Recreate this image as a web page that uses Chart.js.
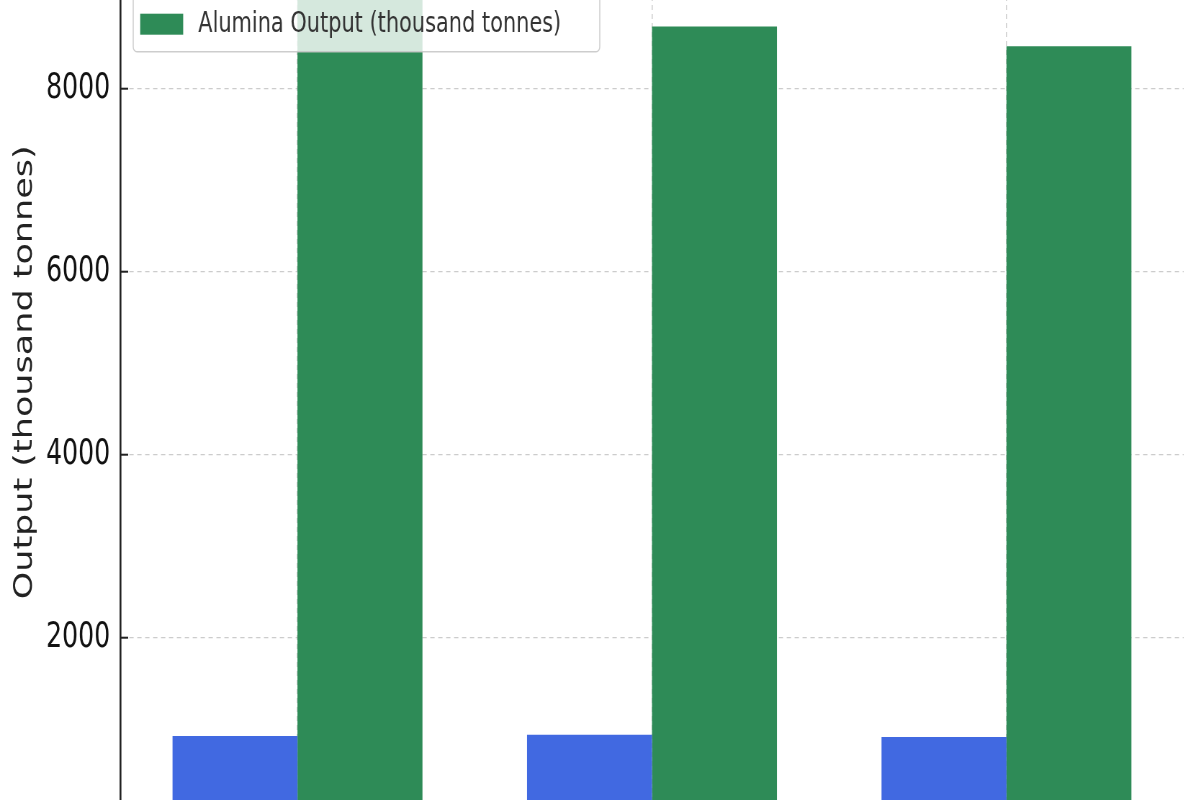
<!DOCTYPE html>
<html>
<head>
<meta charset="utf-8">
<script src="https://cdn.jsdelivr.net/npm/chart.js@4/dist/chart.umd.min.js"></script>
<style>
  body { margin: 0; background: #fff; }
  #frame { position: relative; width: 1200px; height: 800px; overflow: hidden; background: #fff; }
  /* the reference is a squeezed crop, so the canvas is drawn wide and scaled back */
  #chart { position: absolute; left: 0; top: -100px; transform-origin: 0 0; transform: scaleX(0.72); }
</style>
</head>
<body>
<div id="frame">
  <canvas id="chart" width="1667" height="1000"></canvas>
</div>
<script>
// data
var categories = ['2021', '2022', '2023'];
var seriesLabels = ['Aluminium Output (thousand tonnes)', 'Alumina Output (thousand tonnes)'];
var aluminiumOutput = [925, 940, 915];
var aluminaOutput = [9300, 8680, 8465];
var yTicks = [0, 2000, 4000, 6000, 8000];
var yMax = 9800;

var seriesColors = ['#4169E1', '#2E8B57'];

// crop of the reference: 2000 units = 183px, the zero line sits just below the frame
var PX_PER_2000 = 183;
var ZERO_Y = 821;

Chart.defaults.font.family = "'DejaVu Sans', sans-serif";
Chart.defaults.color = '#222';

// matplotlib style legend sitting inside the plot area
var insideLegend = {
    id: 'insideLegend',
    afterDraw: function(chart) {
        var ctx = chart.ctx;
        var area = chart.chartArea;
        var bx = area.left + 18, by = area.top + 19.7;
        var bw = 648, bh = 108;
        ctx.save();
        ctx.fillStyle = 'rgba(255,255,255,0.8)';
        ctx.strokeStyle = 'rgba(200,200,200,0.9)';
        ctx.lineWidth = 1.5;
        ctx.beginPath();
        ctx.roundRect(bx, by, bw, bh, 5);
        ctx.fill();
        ctx.stroke();
        ctx.font = "29px 'DejaVu Sans', sans-serif";
        ctx.textBaseline = 'middle';
        chart.data.datasets.forEach(function(ds, i) {
            var cy = by + 30.5 + i * 50;
            ctx.fillStyle = ds.backgroundColor;
            ctx.fillRect(bx + 9.7, cy - 10.5, 59.7, 21);
            ctx.fillStyle = '#333';
            ctx.fillText(ds.label, bx + 90.3, cy);
        });
        ctx.restore();
    }
};

// short inward tick marks on the y axis
var innerTicks = {
    id: 'innerTicks',
    afterDraw: function(chart) {
        var ctx = chart.ctx;
        var area = chart.chartArea;
        var y = chart.scales.y;
        ctx.save();
        ctx.strokeStyle = '#222';
        ctx.lineWidth = 2;
        yTicks.forEach(function(v) {
            var py = y.getPixelForValue(v);
            ctx.beginPath();
            ctx.moveTo(area.left, py);
            ctx.lineTo(area.left + 11, py);
            ctx.stroke();
        });
        ctx.restore();
    }
};

var canvas = document.getElementById('chart');
var chart = new Chart(canvas, {
    type: 'bar',
    data: {
        labels: categories,
        datasets: [
            { label: seriesLabels[0], data: aluminiumOutput, backgroundColor: seriesColors[0] },
            { label: seriesLabels[1], data: aluminaOutput, backgroundColor: seriesColors[1] }
        ]
    },
    options: {
        responsive: false,
        maintainAspectRatio: false,
        animation: false,
        layout: { padding: { top: 20, right: 23, left: 0, bottom: 0 } },
        datasets: { bar: { categoryPercentage: 0.705, barPercentage: 1 } },
        plugins: {
            legend: { display: false },
            tooltip: { enabled: false }
        },
        scales: {
            x: {
                z: 1,
                afterFit: function(s) { s.height = 83.3; },
                grid: { offset: false, color: 'rgba(170,170,170,0.6)', lineWidth: 1.5, drawTicks: false },
                border: { display: true, color: '#222', width: 2, dash: [5, 4] },
                ticks: { font: { size: 35 }, padding: 14 }
            },
            y: {
                z: 1,
                min: 0,
                max: yMax,
                afterFit: function(s) { s.width = 167; },
                afterBuildTicks: function(s) {
                    s.ticks = yTicks.map(function(v) { return { value: v }; });
                },
                grid: { color: 'rgba(170,170,170,0.6)', lineWidth: 1.2, drawTicks: false },
                border: { display: true, color: '#222', width: 2.6, dash: [6, 5] },
                ticks: {
                    font: { size: 35 }, padding: 14, color: '#111',
                    callback: function(v) { return String(v); }
                },
                title: {
                    display: true,
                    text: 'Output (thousand tonnes)',
                    font: { size: 35 },
                    color: '#222',
                    padding: { top: 14, bottom: 0 }
                }
            }
        }
    },
    plugins: [insideLegend, innerTicks]
});

// stretch the canvas so the y scale has the reference's pixel pitch, then slide it into the crop
var want = yMax * PX_PER_2000 / 2000;
var have = chart.chartArea.bottom - chart.chartArea.top;
chart.resize(1667, Math.round(1000 + want - have));
canvas.style.top = (ZERO_Y - chart.scales.y.getPixelForValue(0)) + 'px';
</script>
</body>
</html>
